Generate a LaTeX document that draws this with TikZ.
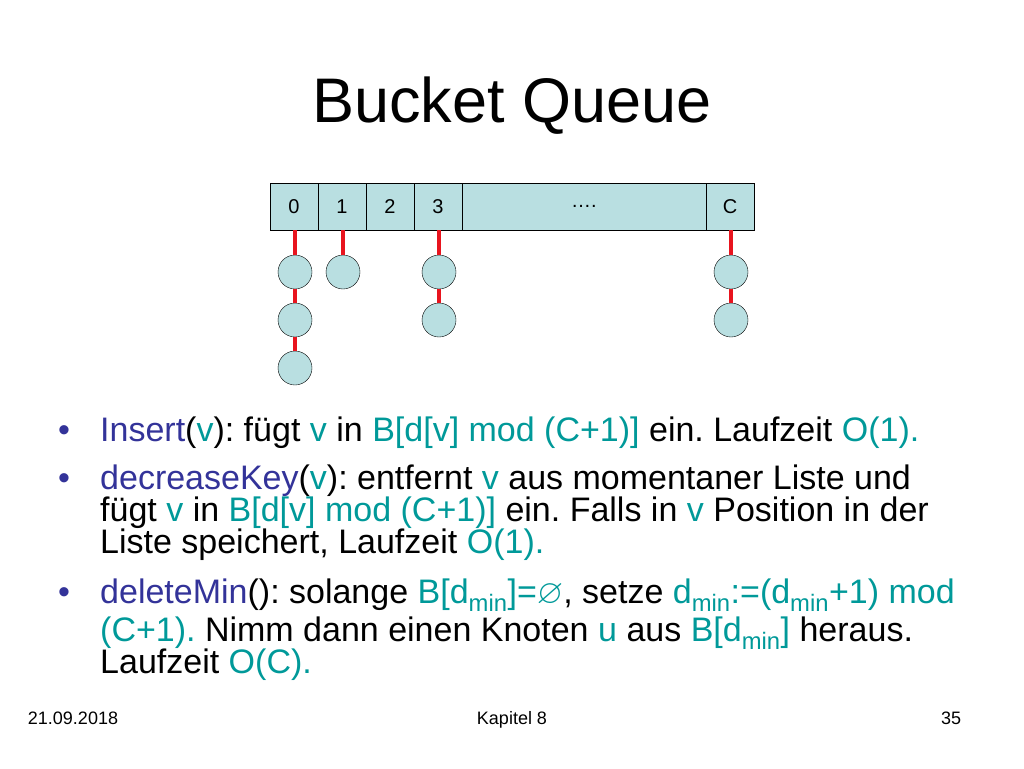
\documentclass[tikz,border=0pt]{standalone}
\usepackage{fontspec}
\setmainfont{Liberation Sans}
\usepackage{amssymb}
\definecolor{bl}{HTML}{333399}
\definecolor{tl}{HTML}{009999}
\definecolor{cellc}{HTML}{B9DFE1}
\definecolor{rd}{HTML}{E8141E}
\newcommand{\B}[1]{\textcolor{bl}{#1}}
\newcommand{\T}[1]{\textcolor{tl}{#1}}
\frenchspacing
\begin{document}
\begin{tikzpicture}[x=1pt,y=-1pt,
  cell/.style={draw=black,fill=cellc,minimum height=47pt,inner sep=0pt,font=\fontsize{20}{20}\selectfont},
  ball/.style={circle,draw=black,fill=cellc,minimum size=34pt,inner sep=0pt},
  link/.style={draw=rd,line width=3.5pt},
  txt/.style={anchor=base west,inner sep=0pt,font=\fontsize{34}{34}\selectfont},
  foot/.style={anchor=base,inner sep=0pt,font=\fontsize{18}{18}\selectfont}]
\useasboundingbox (0,0) rectangle (1024,768);
\node[anchor=base,font=\fontsize{63}{63}\selectfont] (title) at (512,122) {Bucket Queue};
\node[cell,minimum width=48pt] (c0) at (294,206.5) {0};
\node[cell,minimum width=48pt] (c1) at (342,206.5) {1};
\node[cell,minimum width=48pt] (c2) at (390,206.5) {2};
\node[cell,minimum width=48pt] (c3) at (438,206.5) {3};
\node[cell,minimum width=244pt] (cd) at (584,206.5) {….};
\node[cell,minimum width=48pt] (cc) at (730,206.5) {C};
\node[ball] (a1) at (295,272) {};
\node[ball] (a2) at (295,320) {};
\node[ball] (a3) at (295,368) {};
\node[ball] (b1) at (343,272) {};
\node[ball] (d1) at (439,272) {};
\node[ball] (d2) at (439,320) {};
\node[ball] (e1) at (731,272) {};
\node[ball] (e2) at (731,320) {};
\draw[link] (295,230) -- (a1); \draw[link] (a1)--(a2); \draw[link] (a2)--(a3);
\draw[link] (343,230) -- (b1);
\draw[link] (439,230) -- (d1); \draw[link] (d1)--(d2);
\draw[link] (731,230) -- (e1); \draw[link] (e1)--(e2);
\foreach \y/\n in {441/p1,489/p2,603/p3}{\node[txt,text=bl] (\n) at (58,\y) {•};}
\node[txt] (l1) at (100,441) {\B{Insert}(\T{v}): fügt \T{v} in \T{B[d[v] mod (C+1)]} ein. Laufzeit \T{O(1).}};
\node[txt] (l2) at (100,489) {\B{decreaseKey}(\T{v}): entfernt \T{v} aus momentaner Liste und};
\node[txt] (l3) at (100,521) {fügt \T{v} in \T{B[d[v] mod (C+1)]} ein. Falls in \T{v} Position in der};
\node[txt] (l4) at (100,553) {Liste speichert, Laufzeit \T{O(1).}};
\node[txt] (l5) at (100,603) {\B{deleteMin}(): solange \T{B[d\textsubscript{min}]=$\varnothing$}, setze \T{d\textsubscript{min}:=(d\textsubscript{min}+1) mod}};
\node[txt] (l6) at (100,641) {\T{(C+1).} Nimm dann einen Knoten \T{u} aus \T{B[d\textsubscript{min}]} heraus.};
\node[txt] (l7) at (100,673) {Laufzeit \T{O(C).}};
\node[foot] (f1) at (73,724) {21.09.2018};
\node[foot] (f2) at (512,724) {Kapitel 8};
\node[foot] (f3) at (951,724) {35};
\end{tikzpicture}
\end{document}
